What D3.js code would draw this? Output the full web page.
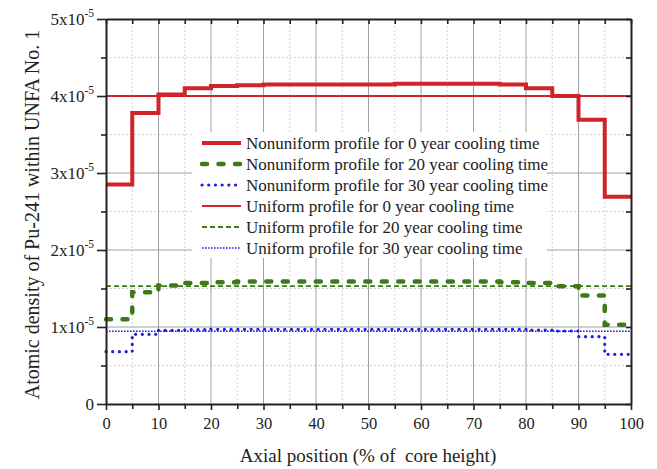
<!DOCTYPE html>
<html>
<head>
<meta charset="utf-8">
<script src="https://cdn.jsdelivr.net/npm/d3@7"></script>
<style>
  body { margin: 0; background: #fff; }
  svg text { font-family: "Liberation Serif", "Times New Roman", serif; fill: #222; }
</style>
</head>
<body>
<div id="chart"></div>
<script>
// section boundaries along the core (%)
let edges = [0, 5, 10, 15, 20, 25, 30, 35, 40, 45, 50, 55, 60, 65, 70, 75, 80, 85, 90, 95, 100];

// nonuniform profiles, one value per 5% section (x1e-5)
let nonu0 = [2.85, 3.78, 4.02, 4.10, 4.13, 4.14, 4.15, 4.15, 4.15, 4.15, 4.15, 4.16, 4.16, 4.16, 4.16, 4.15, 4.10, 4.00, 3.69, 2.69];
let nonu20 = [1.10, 1.45, 1.54, 1.57, 1.58, 1.59, 1.59, 1.59, 1.59, 1.59, 1.59, 1.59, 1.59, 1.59, 1.59, 1.58, 1.57, 1.53, 1.41, 1.03];
let nonu30 = [0.68, 0.905, 0.955, 0.965, 0.97, 0.97, 0.97, 0.97, 0.97, 0.97, 0.97, 0.97, 0.97, 0.97, 0.97, 0.97, 0.96, 0.948, 0.874, 0.645];

// uniform profiles (x1e-5)
let uni0 = 4.00;
let uni20 = 1.53;
let uni30 = 0.945;

let xMajor = [0, 10, 20, 30, 40, 50, 60, 70, 80, 90, 100];
let xMinor = [5, 15, 25, 35, 45, 55, 65, 75, 85, 95];
let yMajor = [0, 1, 2, 3, 4, 5];
let yMinor = [0.5, 1.5, 2.5, 3.5, 4.5];

let legendLabels = [
  "Nonuniform profile for 0 year cooling time",
  "Nonuniform profile for 20 year cooling time",
  "Nonuniform profile for 30 year cooling time",
  "Uniform profile for 0 year cooling time",
  "Uniform profile for 20 year cooling time",
  "Uniform profile for 30 year cooling time"
];

let W = 657, H = 469;
let serif = "Liberation Serif, Times New Roman, serif";
let svg = d3.select("#chart").append("svg").attr("width", W).attr("height", H)
  .attr("font-family", serif);

let x = d3.scaleLinear().domain([0, 100]).range([106, 631]);
let y = d3.scaleLinear().domain([0, 5]).range([404, 19]);

let red = "#d1232a", green = "#3b7a17", blue = "#1f1fe6";

// line styles for each series
let styles = [
  { color: red, width: 4, dash: null, cap: "butt" },
  { color: green, width: 4.5, dash: "5,11.5", cap: "round" },
  { color: blue, width: 3.2, dash: "0.1,6.6", cap: "round" },
  { color: red, width: 1.8, dash: null, cap: "butt" },
  { color: green, width: 1.8, dash: "5,3", cap: "butt" },
  { color: blue, width: 1.6, dash: "1.6,1.4", cap: "butt" }
];

// grid
let grid = svg.append("g");
grid.selectAll(".vmin").data(xMinor).enter().append("line")
  .attr("x1", d => x(d)).attr("x2", d => x(d)).attr("y1", y(0)).attr("y2", y(5))
  .attr("stroke", "#c8c8c8").attr("stroke-width", 0.8).attr("stroke-dasharray", "2,2");
grid.selectAll(".hmin").data(yMinor).enter().append("line")
  .attr("x1", x(0)).attr("x2", x(100)).attr("y1", d => y(d)).attr("y2", d => y(d))
  .attr("stroke", "#c8c8c8").attr("stroke-width", 0.8).attr("stroke-dasharray", "2,2");
grid.selectAll(".vmaj").data(xMajor.slice(1, -1)).enter().append("line")
  .attr("x1", d => x(d)).attr("x2", d => x(d)).attr("y1", y(0)).attr("y2", y(5))
  .attr("stroke", "#a0a0a0").attr("stroke-width", 1);
grid.selectAll(".hmaj").data(yMajor.slice(1, -1)).enter().append("line")
  .attr("x1", x(0)).attr("x2", x(100)).attr("y1", d => y(d)).attr("y2", d => y(d))
  .attr("stroke", "#a0a0a0").attr("stroke-width", 1);

// legend background hides grid
svg.append("rect").attr("x", 192).attr("y", 132).attr("width", 355).attr("height", 126).attr("fill", "#fff");

// data lines
let stepLine = d3.line().x(d => x(d[0])).y(d => y(d[1])).curve(d3.curveStepAfter);
function steps(vals) {
  let pts = vals.map((v, i) => [edges[i], v]);
  pts.push([edges[edges.length - 1], vals[vals.length - 1]]);
  return pts;
}
let series = [
  steps(nonu0), steps(nonu20), steps(nonu30),
  [[0, uni0], [100, uni0]], [[0, uni20], [100, uni20]], [[0, uni30], [100, uni30]]
];
let drawOrder = [3, 4, 5, 0, 1, 2];
drawOrder.forEach(i => {
  let s = styles[i];
  svg.append("path").datum(series[i])
    .attr("d", stepLine)
    .attr("fill", "none")
    .attr("stroke", s.color)
    .attr("stroke-width", s.width)
    .attr("stroke-linecap", s.cap)
    .attr("stroke-dasharray", s.dash);
});

// legend
let leg = svg.append("g");
legendLabels.forEach((lab, i) => {
  let ly = 143 + i * 21;
  let s = styles[i];
  leg.append("line").attr("x1", 202).attr("x2", 241).attr("y1", ly).attr("y2", ly)
    .attr("stroke", s.color).attr("stroke-width", s.width)
    .attr("stroke-linecap", s.cap).attr("stroke-dasharray", s.dash);
  leg.append("text").attr("x", 246).attr("y", ly + 5.5)
    .attr("font-size", 17).text(lab);
});

// axes
function styleAxis(g) {
  g.attr("font-family", serif);
  g.select(".domain").attr("stroke", "#222").attr("stroke-width", 2);
  g.selectAll(".tick line").attr("stroke", "#222").attr("stroke-width", 1.6);
}
let bottomAxis = svg.append("g").attr("transform", "translate(0," + y(0) + ")")
  .call(d3.axisBottom(x).tickValues(xMajor).tickSize(6).tickSizeOuter(0).tickPadding(7).tickFormat(d3.format("d")));
styleAxis(bottomAxis);
bottomAxis.selectAll("text").attr("font-size", 16.5).attr("fill", "#222");
svg.append("g").attr("transform", "translate(0," + y(0) + ")")
  .call(d3.axisBottom(x).tickValues(xMinor).tickSize(5).tickFormat(""))
  .call(g => g.select(".domain").remove())
  .call(styleAxis);

let topAxis = svg.append("g").attr("transform", "translate(0," + y(5) + ")")
  .call(d3.axisBottom(x).tickValues(xMajor.concat(xMinor)).tickSize(5).tickSizeOuter(0).tickFormat(""));
styleAxis(topAxis);

let leftAxis = svg.append("g").attr("transform", "translate(" + x(0) + ",0)")
  .call(d3.axisLeft(y).tickValues(yMajor).tickSize(9).tickSizeOuter(0).tickPadding(4).tickFormat(""));
styleAxis(leftAxis);
leftAxis.selectAll(".tick").each(function(d) {
  let t = d3.select(this).append("text")
    .attr("x", -12).attr("dy", "0.35em").attr("text-anchor", "end")
    .attr("font-size", 17).attr("fill", "#222");
  if (d === 0) {
    t.text("0");
  } else {
    t.append("tspan").text(d + "x10");
    t.append("tspan").attr("dy", -8).attr("font-size", 11.5).text("-5");
  }
});
svg.append("g").attr("transform", "translate(" + x(0) + ",0)")
  .call(d3.axisLeft(y).tickValues(yMinor).tickSize(5).tickFormat(""))
  .call(g => g.select(".domain").remove())
  .call(styleAxis);

let rightAxis = svg.append("g").attr("transform", "translate(" + x(100) + ",0)")
  .call(d3.axisLeft(y).tickValues(yMajor.concat(yMinor)).tickSize(5).tickSizeOuter(0).tickFormat(""));
styleAxis(rightAxis);

// titles
svg.append("text").attr("x", 368).attr("y", 462).attr("text-anchor", "middle")
  .attr("font-size", 19).text("Axial position (% of\u00a0 core height)");
svg.append("text").attr("transform", "translate(39," + ((y(0) + y(5)) / 2 + 3) + ") rotate(-90)")
  .attr("text-anchor", "middle").attr("font-size", 20)
  .text("Atomic density of Pu-241 within UNFA No. 1");
</script>
</body>
</html>
